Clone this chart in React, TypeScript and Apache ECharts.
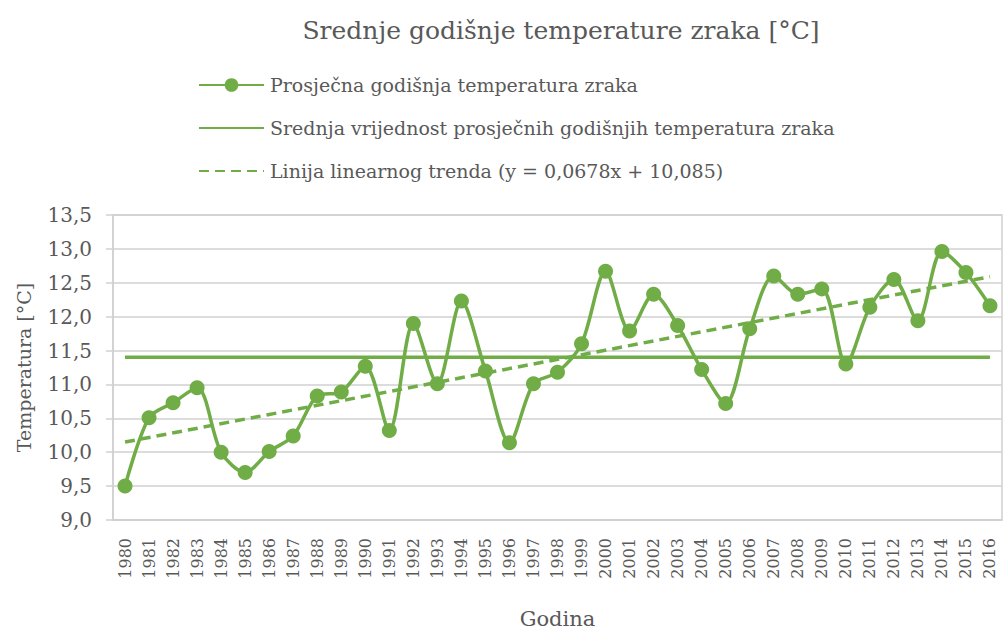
import React, { useEffect, useRef } from "react";
import * as echarts from "echarts";

const years: string[] = [
  "1980", "1981", "1982", "1983", "1984", "1985", "1986", "1987", "1988", "1989",
  "1990", "1991", "1992", "1993", "1994", "1995", "1996", "1997", "1998", "1999",
  "2000", "2001", "2002", "2003", "2004", "2005", "2006", "2007", "2008", "2009",
  "2010", "2011", "2012", "2013", "2014", "2015", "2016",
];

const avgTemp: number[] = [
  9.5, 10.51, 10.73, 10.95, 10.0, 9.7, 10.01, 10.24, 10.83, 10.89,
  11.27, 10.32, 11.9, 11.01, 12.23, 11.2, 10.14, 11.01, 11.18, 11.6,
  12.67, 11.79, 12.33, 11.87, 11.22, 10.72, 11.82, 12.6, 12.33, 12.41,
  11.3, 12.14, 12.55, 11.94, 12.96, 12.65, 12.16,
];

const meanValue = 11.4;
const trendStart = 10.15;
const trendEnd = 12.59;

const yTicks = { min: 9, max: 13.5, interval: 0.5 };

const seriesNames = [
  "Prosječna godišnja temperatura zraka",
  "Srednja vrijednost prosječnih godišnjih temperatura zraka",
  "Linija linearnog trenda (y = 0,0678x + 10,085)",
];

const GREEN = "#70ad47";
const TEXT = "#595959";
const GRID = "#d0d0d0";
const FONT = "DejaVu Serif";

export default function App() {
  const ref = useRef<HTMLDivElement>(null);

  useEffect(() => {
    document.body.style.margin = "0";
    if (!ref.current) return;
    const chart = echarts.init(ref.current, null, { renderer: "svg" });

    const meanData = years.map((_, i) => (i === 0 || i === years.length - 1 ? meanValue : null));
    const trendData = years.map((_, i) =>
      i === 0 ? trendStart : i === years.length - 1 ? trendEnd : null
    );

    chart.setOption({
      animation: false,
      backgroundColor: "#ffffff",
      textStyle: { fontFamily: FONT },
      title: {
        text: "Srednje godišnje temperature zraka [°C]",
        left: 556,
        top: 13,
        textAlign: "center",
        textStyle: { fontFamily: FONT, fontSize: 25, fontWeight: "normal", color: TEXT },
      },
      legend: {
        orient: "vertical",
        left: 193,
        top: 68,
        itemWidth: 65,
        itemHeight: 17,
        itemGap: 19,
        data: [
          { name: seriesNames[0] },
          { name: seriesNames[1], itemStyle: { opacity: 0 } },
          { name: seriesNames[2], itemStyle: { opacity: 0 } },
        ],
        textStyle: {
          fontFamily: FONT,
          fontSize: 19,
          color: TEXT,
          padding: [0, 0, 0, 1],
          lineHeight: 24,
        },
      },
      grid: {
        left: 113,
        right: 1,
        top: 215,
        bottom: 106,
        show: true,
        borderColor: GRID,
        borderWidth: 1.5,
      },
      xAxis: {
        type: "category",
        data: years,
        boundaryGap: true,
        name: "Godina",
        nameLocation: "middle",
        nameGap: 88,
        nameTextStyle: { fontFamily: FONT, fontSize: 21, color: TEXT },
        axisLine: { show: true, lineStyle: { color: GRID, width: 1.5 } },
        axisTick: { show: false },
        axisLabel: {
          rotate: 90,
          interval: 0,
          margin: 18,
          fontFamily: FONT,
          fontSize: 16,
          color: TEXT,
        },
      },
      yAxis: {
        type: "value",
        min: yTicks.min,
        max: yTicks.max,
        interval: yTicks.interval,
        name: "Temperatura [°C]",
        nameLocation: "middle",
        nameGap: 80,
        nameTextStyle: { fontFamily: FONT, fontSize: 19, color: TEXT },
        axisLine: { show: true, lineStyle: { color: GRID, width: 1.5 } },
        axisTick: { show: true, length: 7, lineStyle: { color: GRID, width: 1.5 } },
        splitLine: { show: true, lineStyle: { color: GRID, width: 1.5 } },
        axisLabel: {
          margin: 21,
          fontFamily: FONT,
          fontSize: 20,
          color: TEXT,
          formatter: (v: number) => v.toFixed(1).replace(".", ","),
        },
      },
      series: [
        {
          name: seriesNames[0],
          type: "line",
          data: avgTemp,
          smooth: 0.3,
          symbol: "circle",
          symbolSize: 15,
          itemStyle: { color: GREEN },
          lineStyle: { color: GREEN, width: 3.5 },
          z: 3,
        },
        {
          name: seriesNames[1],
          type: "line",
          data: meanData,
          connectNulls: true,
          symbol: "none",
          showSymbol: false,
          itemStyle: { color: GREEN },
          lineStyle: { color: GREEN, width: 3.5 },
          z: 2,
        },
        {
          name: seriesNames[2],
          type: "line",
          data: trendData,
          connectNulls: true,
          symbol: "none",
          showSymbol: false,
          itemStyle: { color: GREEN },
          lineStyle: { color: GREEN, width: 3.5, type: [10, 6] },
          z: 2,
        },
      ],
    });

    return () => chart.dispose();
  }, []);

  return (
    <div
      ref={ref}
      style={{ position: "absolute", left: 0, top: 0, width: 1003, height: 630 }}
    />
  );
}
